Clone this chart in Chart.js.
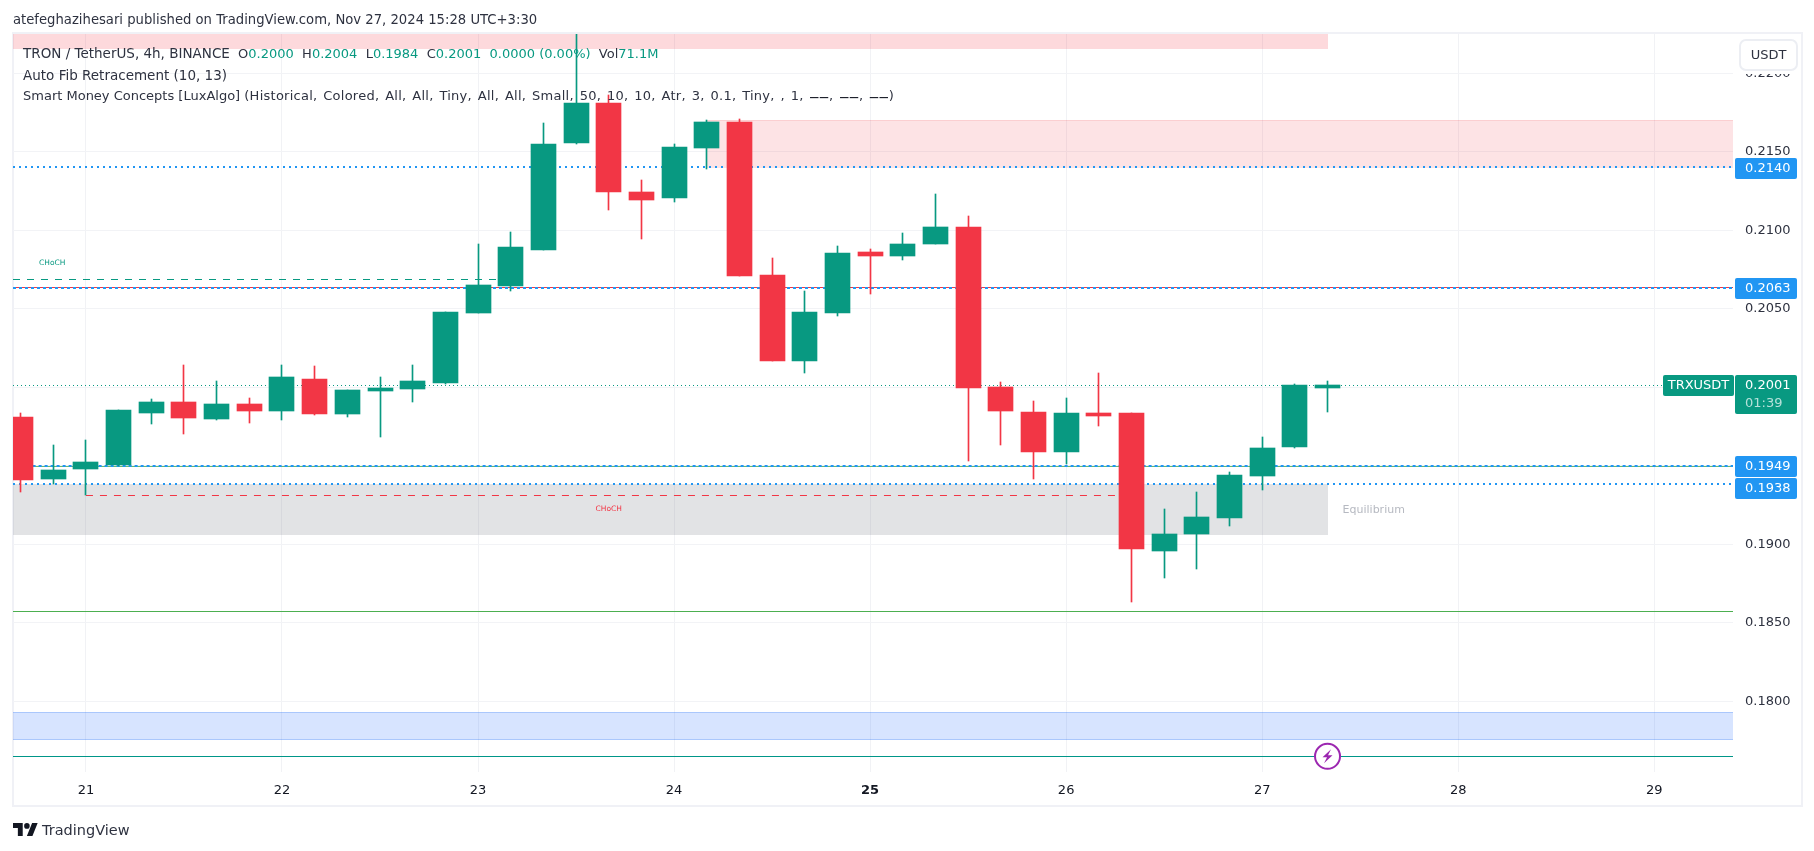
<!DOCTYPE html>
<html><head><meta charset="utf-8">
<script src="https://cdn.jsdelivr.net/npm/chart.js@4"></script>
<style>
html,body{margin:0;padding:0;background:#fff;width:1814px;height:851px;overflow:hidden;font-family:"DejaVu Sans",sans-serif;color:#131722}
#frame{position:absolute;left:12px;top:32px;width:1791px;height:775px;box-sizing:border-box;border:2px solid #f0f1f6}
#c{position:absolute;left:0;top:0}
.t{position:absolute;white-space:pre;font-size:13px;line-height:20px;color:#2e3240}
.g{color:#089981}
.b{font-size:13.5px}
.p{letter-spacing:.25px;word-spacing:1.5px}
.d{font-size:9.5px;font-weight:700;color:#131722}
#usdt{position:absolute;left:1739px;top:39px;width:59px;height:32px;box-sizing:border-box;border:2px solid #eceef3;border-radius:7px;background:#fff;box-shadow:0 0 0 3px #fff;text-align:center;font-size:13px;line-height:28px;color:#2e3240}
#logo{position:absolute;left:13px;top:823px;width:25px;height:13px}
</style></head><body>
<div id="frame"></div>
<canvas id="c" width="1814" height="851"></canvas>
<div class="t" style="left:13px;top:10px;font-size:13.2px">atefeghazihesari published on TradingView.com, Nov 27, 2024 15:28 UTC+3:30</div>
<div class="t" style="left:23px;top:43px"><span class="b">TRON / TetherUS, 4h, BINANCE</span>  O<span class="g">0.2000</span>  H<span class="g">0.2004</span>  L<span class="g">0.1984</span>  C<span class="g">0.2001</span>  <span class="g">0.0000 (0.00%)</span>  Vol<span class="g">71.1M</span></div>
<div class="t" style="left:23px;top:65px;font-size:13.5px">Auto Fib Retracement (10, 13)</div>
<div class="t" style="left:23px;top:86px">Smart Money Concepts [LuxAlgo] <span class="p">(Historical, Colored, All, All, Tiny, All, All, Small, 50, 10, 10, Atr, 3, 0.1, Tiny, , 1, <span class="d">——</span>, <span class="d">——</span>, <span class="d">——</span>)</span></div>
<div id="usdt">USDT</div>
<svg id="logo" viewBox="0 4 36 18" preserveAspectRatio="none"><path fill="#131722" d="M14 22H7V11H0V4h14v18zM28 22h-8l7.5-18h8L28 22z"/><circle fill="#131722" cx="20" cy="8" r="4"/></svg>
<div class="t" style="left:42px;top:820px;font-size:14.5px">TradingView</div>
<script>
// candle values, one per 4h bar, bar 0 is the partly hidden first candle
const opens =[.19811,.19416,.1948,.19505,.19836,.19906,.19798,.19894,.19849,.20053,.1983,.19976,.19989,.20027,.20473,.20645,.20875,.21556,.21811,.21244,.21206,.21524,.2169,.20715,.20168,.20473,.20862,.20836,.20913,.21021,.2,.19843,.19588,.19836,.19836,.18957,.19066,.19168,.19435,.1962,.19996];
const highs =[.19836,.19632,.19664,.19855,.19925,.20142,.2004,.19932,.20142,.20136,.19983,.20066,.20142,.2048,.20913,.20989,.21683,.2226,.21862,.2132,.2155,.21703,.21709,.20824,.20613,.209,.20881,.20983,.21231,.21091,.20034,.19913,.19932,.20091,.19836,.19225,.19333,.19461,.19683,.20021,.2004];
const lows  =[.19333,.19384,.19312,.19499,.19766,.19703,.19792,.19773,.19792,.19824,.19811,.19683,.19906,.20021,.2047,.20613,.20875,.2155,.21129,.20945,.2118,.2139,.20709,.20168,.20091,.20454,.20594,.20811,.20913,.19531,.19632,.19416,.19511,.19754,.18632,.18785,.18843,.19117,.19346,.19613,.19843];
const closes=[.1941,.19473,.19524,.19855,.19906,.19804,.19894,.19849,.20066,.1983,.19983,.19996,.2004,.2048,.20652,.20894,.2155,.21811,.21244,.21193,.21531,.2169,.20709,.20168,.2048,.20855,.20836,.20913,.21021,.19996,.19849,.19588,.19836,.19817,.1897,.19066,.19174,.19441,.19613,.20015,.20015];
// axis labels
const dayBars  =[2,8,14,20,26,32,38,44,50];
const dayLabels=['21','22','23','24','25','26','27','28','29'];
const boldDay  ='25';
const priceTicks=[.18,.185,.19,.195,.2,.205,.21,.215,.22];
// visible range
const xRange=[-0.2326,52.41];
const yRange=[.1755,.2225];
// horizontal levels
const fibLevels=[.214,.20631,.19497,.19385];
const fibStarts=[-0.2326,-0.2326,0,-0.2326];
const lastPrice=.20013;
const lastPriceLabel='0.2001';
const countdownLabel='01:39';
const symbolLabel='TRXUSDT';
const redLevel=.20635;
const greenLevels=[.19497,.18573];
const tealLevel=.1765;
const greenChoch=.20688, greenChochEnd=15;
const redChoch=.19312, redChochFrom=2, redChochEnd=33.7;
// zones [x0,x1,top,bottom]
const zoneX0=[-0.2326,21,-0.2326,-0.2326];
const zoneX1=[40,52.41,40,52.41];
const zoneTop=[.2225,.21703,.19384,.1793];
const zoneBottom=[.22157,.21397,.19059,.17752];
const zoneFill=['rgba(242,54,69,.19)','rgba(242,54,69,.14)','rgba(120,123,134,.21)','rgba(41,112,255,.19)'];
const zoneEdge=[null,'rgba(242,54,69,.12)',null,'rgba(66,133,244,.3)'];
// axis tags
const tagValues=[.2140,.2063,.1949,.1938];

const GREEN='#089981',RED='#F23645',BLUE='#2196F3',FONT='"DejaVu Sans"';
const barsIdx=opens.map((_,i)=>i);
const colorOf=i=>closes[i]>=opens[i]?GREEN:RED;
function hLine(y,x0,x1,color,width,dash){return{type:'line',order:5,data:[{x:x0,y},{x:x1,y}],borderColor:color,borderWidth:width,borderDash:dash||[],pointRadius:0,fill:false,tension:0};}

const overlay={id:'overlay',
 beforeDatasetsDraw(ch){
  const {ctx,scales:{x,y}}=ch;
  // snap elements to whole pixels, as the original renderer does
  ch.data.datasets.forEach((d,di)=>{
   const els=ch.getDatasetMeta(di).data;
   if(d.type==='bar'){els.forEach(e=>{e.x=Math.floor(e.x)+.5;e.y=Math.round(e.y);e.base=Math.round(e.base);});}
   else{const odd=Math.round(d.borderWidth)%2===1;els.forEach(e=>{e.y=odd?Math.floor(e.y)+.5:Math.round(e.y);});}
  });
  ctx.save();
  const a=ch.chartArea;ctx.beginPath();ctx.rect(a.left,a.top-1,a.width,a.height+1);ctx.clip();
  zoneTop.forEach((t,i)=>{
   const x0=Math.round(x.getPixelForValue(zoneX0[i])),x1=Math.round(x.getPixelForValue(zoneX1[i]));
   const y0=Math.round(y.getPixelForValue(t)),y1=Math.round(y.getPixelForValue(zoneBottom[i]));
   ctx.fillStyle=zoneFill[i];ctx.fillRect(x0,y0,x1-x0,y1-y0);
   if(zoneEdge[i]){ctx.fillStyle=zoneEdge[i];ctx.fillRect(x0,y0,x1-x0,1);if(i===3)ctx.fillRect(x0,y1-1,x1-x0,1);}
  });
  ctx.restore();
 },
 afterDatasetsDraw(ch){
  const {ctx,scales:{x,y}}=ch;
  ctx.save();
  ctx.textBaseline='middle';ctx.textAlign='center';
  ctx.font='7.5px '+FONT;
  ctx.fillStyle=GREEN;ctx.fillText('CHoCH',x.getPixelForValue(.97),y.getPixelForValue(.20792));
  ctx.fillStyle=RED;ctx.fillText('CHoCH',x.getPixelForValue(18),y.getPixelForValue(.19225));
  ctx.textAlign='left';ctx.font='11px '+FONT;ctx.fillStyle='#b6b9c1';
  ctx.fillText('Equilibrium',x.getPixelForValue(40.46),y.getPixelForValue(.19218));
  // lightning marker on the last bar
  const mx=x.getPixelForValue(40),my=y.getPixelForValue(tealLevel);
  ctx.beginPath();ctx.arc(mx,my,12.5,0,Math.PI*2);ctx.fillStyle='#fff';ctx.fill();
  ctx.lineWidth=2;ctx.strokeStyle='#9C27B0';ctx.stroke();
  ctx.beginPath();ctx.moveTo(mx+3.5,my-7);ctx.lineTo(mx-5,my+1);ctx.lineTo(mx-.5,my+1);ctx.lineTo(mx-3.5,my+7);ctx.lineTo(mx+5,my-1);ctx.lineTo(mx+.5,my-1);ctx.closePath();ctx.fillStyle='#9C27B0';ctx.fill();
  ctx.restore();
 },
 afterDraw(ch){
  const {ctx,scales:{y}}=ch;
  ctx.save();
  const tag=(x,w,top,h,col)=>{ctx.fillStyle=col;ctx.beginPath();ctx.roundRect(x,top,w,h,2);ctx.fill();};
  ctx.textBaseline='middle';ctx.textAlign='left';ctx.font='13px '+FONT;
  const tagTops=[158,278,456,478];
  tagValues.forEach((v,i)=>{
   tag(1735,62,tagTops[i],21,BLUE);
   ctx.fillStyle='#fff';ctx.fillText(v.toFixed(4),1745,tagTops[i]+11);
  });
  const py=Math.round(y.getPixelForValue(lastPrice));
  tag(1735,62,py-10,39,GREEN);
  ctx.fillStyle='#fff';ctx.fillText(lastPriceLabel,1745,py+1);
  ctx.fillStyle='rgba(255,255,255,.7)';ctx.fillText(countdownLabel,1745,py+19);
  tag(1663,71,py-10,21,GREEN);
  ctx.fillStyle='#fff';ctx.textAlign='center';ctx.fillText(symbolLabel,1698.5,py+1);
  ctx.restore();
 }
};

new Chart(document.getElementById('c'),{
 data:{datasets:[
  hLine(fibLevels[0],fibStarts[0],xRange[1],BLUE,2,[2,4]),
  hLine(fibLevels[1],fibStarts[1],xRange[1],BLUE,2,[3,3]),
  hLine(fibLevels[2],fibStarts[2],xRange[1],BLUE,2,[3,3]),
  hLine(fibLevels[3],fibStarts[3],xRange[1],BLUE,2,[2,4]),
  hLine(redLevel,xRange[0],xRange[1],RED,1),
  hLine(greenLevels[0],0,xRange[1],'#66BB6A',1),
  hLine(greenLevels[1],xRange[0],xRange[1],'#4CAF50',1),
  hLine(tealLevel,xRange[0],xRange[1],'#009688',1),
  hLine(greenChoch,xRange[0],greenChochEnd,GREEN,1,[7,7]),
  hLine(redChoch,redChochFrom,redChochEnd,RED,1,[7,7]),
  hLine(lastPrice,xRange[0],xRange[1],GREEN,1,[1,3]),
  {type:'bar',order:2,grouped:false,barThickness:1,data:barsIdx.map(i=>({x:i,y:[lows[i],highs[i]]})),backgroundColor:barsIdx.map(colorOf)},
  {type:'bar',order:1,grouped:false,barThickness:25,data:barsIdx.map(i=>({x:i,y:[opens[i],closes[i]]})),backgroundColor:barsIdx.map(colorOf)}
 ]},
 options:{
  responsive:false,animation:false,
  layout:{padding:{left:13,top:34,right:0,bottom:0}},
  plugins:{legend:{display:false},tooltip:{enabled:false}},
  scales:{
   x:{type:'linear',min:xRange[0],max:xRange[1],offset:false,
    afterBuildTicks(s){s.ticks=dayBars.map(v=>({value:v}));},
    afterFit(s){s.height=79;},
    grid:{color:'#f1f2f5',lineWidth:1,drawTicks:false,offset:false},border:{display:false},
    ticks:{autoSkip:false,maxRotation:0,padding:11,color:'#131722',
     font:c=>({family:FONT,size:13,weight:(c.tick&&dayLabels[dayBars.indexOf(c.tick.value)]===boldDay)?'700':'400'}),
     callback:v=>dayLabels[dayBars.indexOf(v)]}},
   y:{type:'linear',position:'right',min:yRange[0],max:yRange[1],
    afterBuildTicks(s){s.ticks=priceTicks.map(v=>({value:v}));},
    afterFit(s){s.width=81;},
    grid:{color:'#f2f3f6',lineWidth:1,drawTicks:false},border:{display:false},
    ticks:{autoSkip:false,padding:12,color:'#2e3240',font:{family:FONT,size:13},callback:v=>v.toFixed(4)}}
  }
 },
 plugins:[overlay]
});
</script>
</body></html>
